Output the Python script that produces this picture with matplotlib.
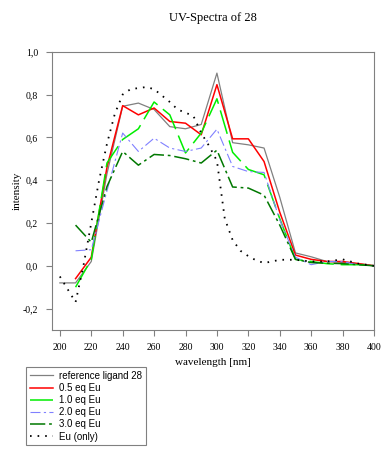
import matplotlib
matplotlib.use("Agg")
import matplotlib.pyplot as plt
from matplotlib.ticker import FuncFormatter, MultipleLocator

# ---- data ----
wl_ref = [200, 210, 220, 230, 240, 250, 260, 270, 280, 290, 300, 310, 320, 330, 340, 350, 360, 370, 380, 390, 400]
ref_ligand = [-0.08, -0.08, 0.02, 0.43, 0.745, 0.76, 0.73, 0.65, 0.64, 0.66, 0.90, 0.575, 0.565, 0.55, 0.32, 0.06, 0.042, 0.02, 0.016, 0.01, 0.0]

wl_eq = [210, 220, 230, 240, 250, 260, 270, 280, 290, 300, 310, 320, 330, 340, 350, 360, 370, 380, 390, 400]
eq05 = [-0.06, 0.04, 0.46, 0.748, 0.705, 0.737, 0.674, 0.666, 0.612, 0.846, 0.593, 0.593, 0.487, 0.25, 0.05, 0.03, 0.02, 0.02, 0.01, 0.0]
eq10 = [-0.10, 0.03, 0.48, 0.59, 0.64, 0.765, 0.705, 0.527, 0.62, 0.78, 0.53, 0.45, 0.425, 0.22, 0.03, 0.02, 0.01, 0.005, 0.005, 0.0]
eq20 = [0.07, 0.075, 0.35, 0.62, 0.534, 0.596, 0.55, 0.534, 0.55, 0.638, 0.464, 0.44, 0.436, 0.215, 0.04, 0.005, 0.02, 0.02, 0.005, 0.0]
eq30 = [0.19, 0.11, 0.37, 0.534, 0.47, 0.52, 0.515, 0.50, 0.48, 0.54, 0.368, 0.363, 0.33, 0.19, 0.03, 0.015, 0.012, 0.01, 0.005, 0.0]

wl_eu = [200, 205, 210, 215, 220, 225, 230, 235, 240, 245, 250, 255, 260, 265, 270, 275, 280, 285, 290, 295,
         300, 305, 310, 315, 320, 325, 330, 335, 340, 345, 350, 360, 370, 380, 390, 400]
eu_only = [-0.05, -0.11, -0.17, 0.0, 0.2, 0.40, 0.57, 0.71, 0.80, 0.825, 0.83, 0.835, 0.825, 0.795, 0.765, 0.73, 0.715, 0.70, 0.62, 0.56,
           0.49, 0.22, 0.12, 0.07, 0.045, 0.025, 0.013, 0.02, 0.028, 0.028, 0.028, 0.02, 0.02, 0.03, 0.01, 0.0]

labels = ["reference ligand 28", "0.5 eq Eu", "1.0 eq Eu", "2.0 eq Eu", "3.0 eq Eu", "Eu (only)"]
x_ticks = [200, 220, 240, 260, 280, 300, 320, 340, 360, 380, 400]

serif = "Liberation Serif"
sans = "Liberation Sans"

fig = plt.figure(figsize=(3.91, 4.5), dpi=100)
ax = fig.add_axes([52 / 391, 1 - 330 / 450, (374 - 52) / 391, (330 - 51.7) / 450])

l1, = ax.plot(wl_ref, ref_ligand, color="#808080", lw=0.9, label=labels[0])
l2, = ax.plot(wl_eq, eq05, color="#ff0000", lw=1.1, label=labels[1])
l3, = ax.plot(wl_eq, eq10, color="#00ee00", lw=1.1, dashes=(16, 4.5), label=labels[2])
l4, = ax.plot(wl_eq, eq20, color="#8080ff", lw=0.8, dashes=(9, 3, 2, 3), label=labels[3])
l5, = ax.plot(wl_eq, eq30, color="#007800", lw=1.1, dashes=(10, 2.5, 1.8, 2.5), label=labels[4])
l6, = ax.plot(wl_eu, eu_only, color="black", lw=1.3, dashes=(0.9, 3.3), label=labels[5])

ax.set_xlim(195, 400)
ax.set_ylim(-0.30, 1.0)
ax.set_xticks(x_ticks)
ax.yaxis.set_major_locator(MultipleLocator(0.2))
ax.yaxis.set_major_formatter(FuncFormatter(lambda v, p: f"{v:.1f}".replace(".", ",").replace("-0,0", "0,0")))

for s in ax.spines.values():
    s.set_color("#808080")
    s.set_linewidth(0.8)
ax.tick_params(axis="both", direction="out", length=4, width=0.8, color="#808080",
               labelsize=7, labelcolor="black")
ax.tick_params(axis="y", pad=6)
ax.tick_params(axis="x", pad=5)
for t in ax.get_xticklabels() + ax.get_yticklabels():
    t.set_fontfamily(serif)

ax.set_xlabel("wavelength [nm]", fontfamily=serif, fontsize=8, labelpad=5)
ax.set_ylabel("intensity", fontfamily=serif, fontsize=8, labelpad=1)
ax.set_title("UV-Spectra of 28", fontfamily=serif, fontsize=9, pad=22)

leg = fig.legend(handles=[l1, l2, l3, l4, l5, l6], loc="upper left",
                 bbox_to_anchor=(26 / 391, 1 - 367 / 450), borderaxespad=0,
                 prop={"family": sans, "size": 7}, fancybox=False,
                 edgecolor="#808080", framealpha=1, handlelength=2.4,
                 handletextpad=0.6, labelspacing=0.22, borderpad=0.4)
leg.get_frame().set_linewidth(0.8)

fig.savefig("out.png", dpi=100)
